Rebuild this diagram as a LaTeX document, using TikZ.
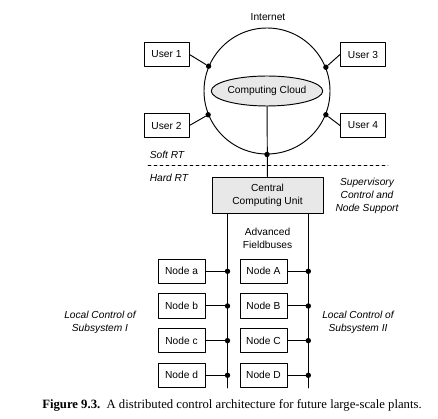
\documentclass[tikz,border=0pt]{standalone}
\usepackage{fontspec}
\setsansfont{Liberation Sans}
\newfontfamily\capfont{Liberation Serif}
\usetikzlibrary{shapes.geometric,calc}
\begin{document}
\begin{tikzpicture}[x=1pt, y=-1pt, font=\sffamily\fontsize{10.2}{13}\selectfont, line join=round, line cap=round, line width=.95pt,
  box/.style={draw, minimum height=24.5pt, inner sep=0pt},
  dot/.style={circle, fill, inner sep=0pt, minimum size=5.4pt},
  note/.style={font=\sffamily\itshape\fontsize{10.2}{13}\selectfont, align=center}]
\useasboundingbox (0,0) rectangle (438,419);
% internet ring
\node[circle, draw, minimum size=126pt, inner sep=0pt] (net) at (267,91) {};
\node (inet) at (268,17) {Internet};
\node[ellipse, draw, fill=gray!18, minimum width=102pt, minimum height=30pt, inner sep=0pt] (cloud) at (267,91) {Computing Cloud};
\foreach \u/\x/\y/\a in {1/166.5/54.5/157.5, 2/166.5/125.5/202.5, 3/363/54.5/22.5, 4/363/125.5/-22.5} {
  \node[box, minimum width=45pt] (user\u) at (\x,\y) {User \u};
  \node[dot] (ud\u) at (net.\a) {};
}
\foreach \u/\s in {1/east, 2/east, 3/west, 4/west} \draw (user\u.\s) -- (ud\u);
% soft / hard real time
\node[note, anchor=west] (soft) at (146,155) {Soft RT};
\node[note, anchor=west] (hard) at (146,177.5) {Hard RT};
\draw[dashed, dash pattern=on 3pt off 3pt] (148,165.5) -- (388,165.5);
% central unit
\node[draw, fill=gray!18, minimum width=111pt, minimum height=36pt, inner sep=0pt, align=center] (ccu) at (267.5,195) {Central\\Computing Unit};
\node[dot] (nd) at (net.south) {};
\draw (cloud) -- (ccu);
\node[note] (sup) at (367,196) {Supervisory\\Control and\\Node Support};
% fieldbuses
\coordinate (busL) at (227.5,388);
\coordinate (busR) at (308.3,388);
\draw (ccu.south -| busL) -- (busL);
\draw (ccu.south -| busR) -- (busR);
\node[align=center] (fb) at (267.5,238.5) {Advanced\\Fieldbuses};
\foreach \l/\L [count=\i] in {a/A, b/B, c/C, d/D} {
  \node[box, minimum width=47pt] (n\l) at (181.5,{271.3+34.67*(\i-1)}) {Node \l};
  \node[box, minimum width=47pt] (n\L) at (263.5,{271.3+34.67*(\i-1)}) {Node \L};
  \draw (n\l.east) -- (n\l.east -| busL) node[dot] {};
  \draw (n\L.east) -- (n\L.east -| busR) node[dot] {};
}
\node[note] (locI) at (100,322) {Local Control of\\Subsystem I};
\node[note] (locII) at (358,322) {Local Control of\\Subsystem II};
% caption
\node (cap) at (232,405.5) {\capfont\fontsize{12.7}{14}\selectfont\textbf{Figure 9.3.}\ \ A distributed control architecture for future large-scale plants.};
\end{tikzpicture}
\end{document}
